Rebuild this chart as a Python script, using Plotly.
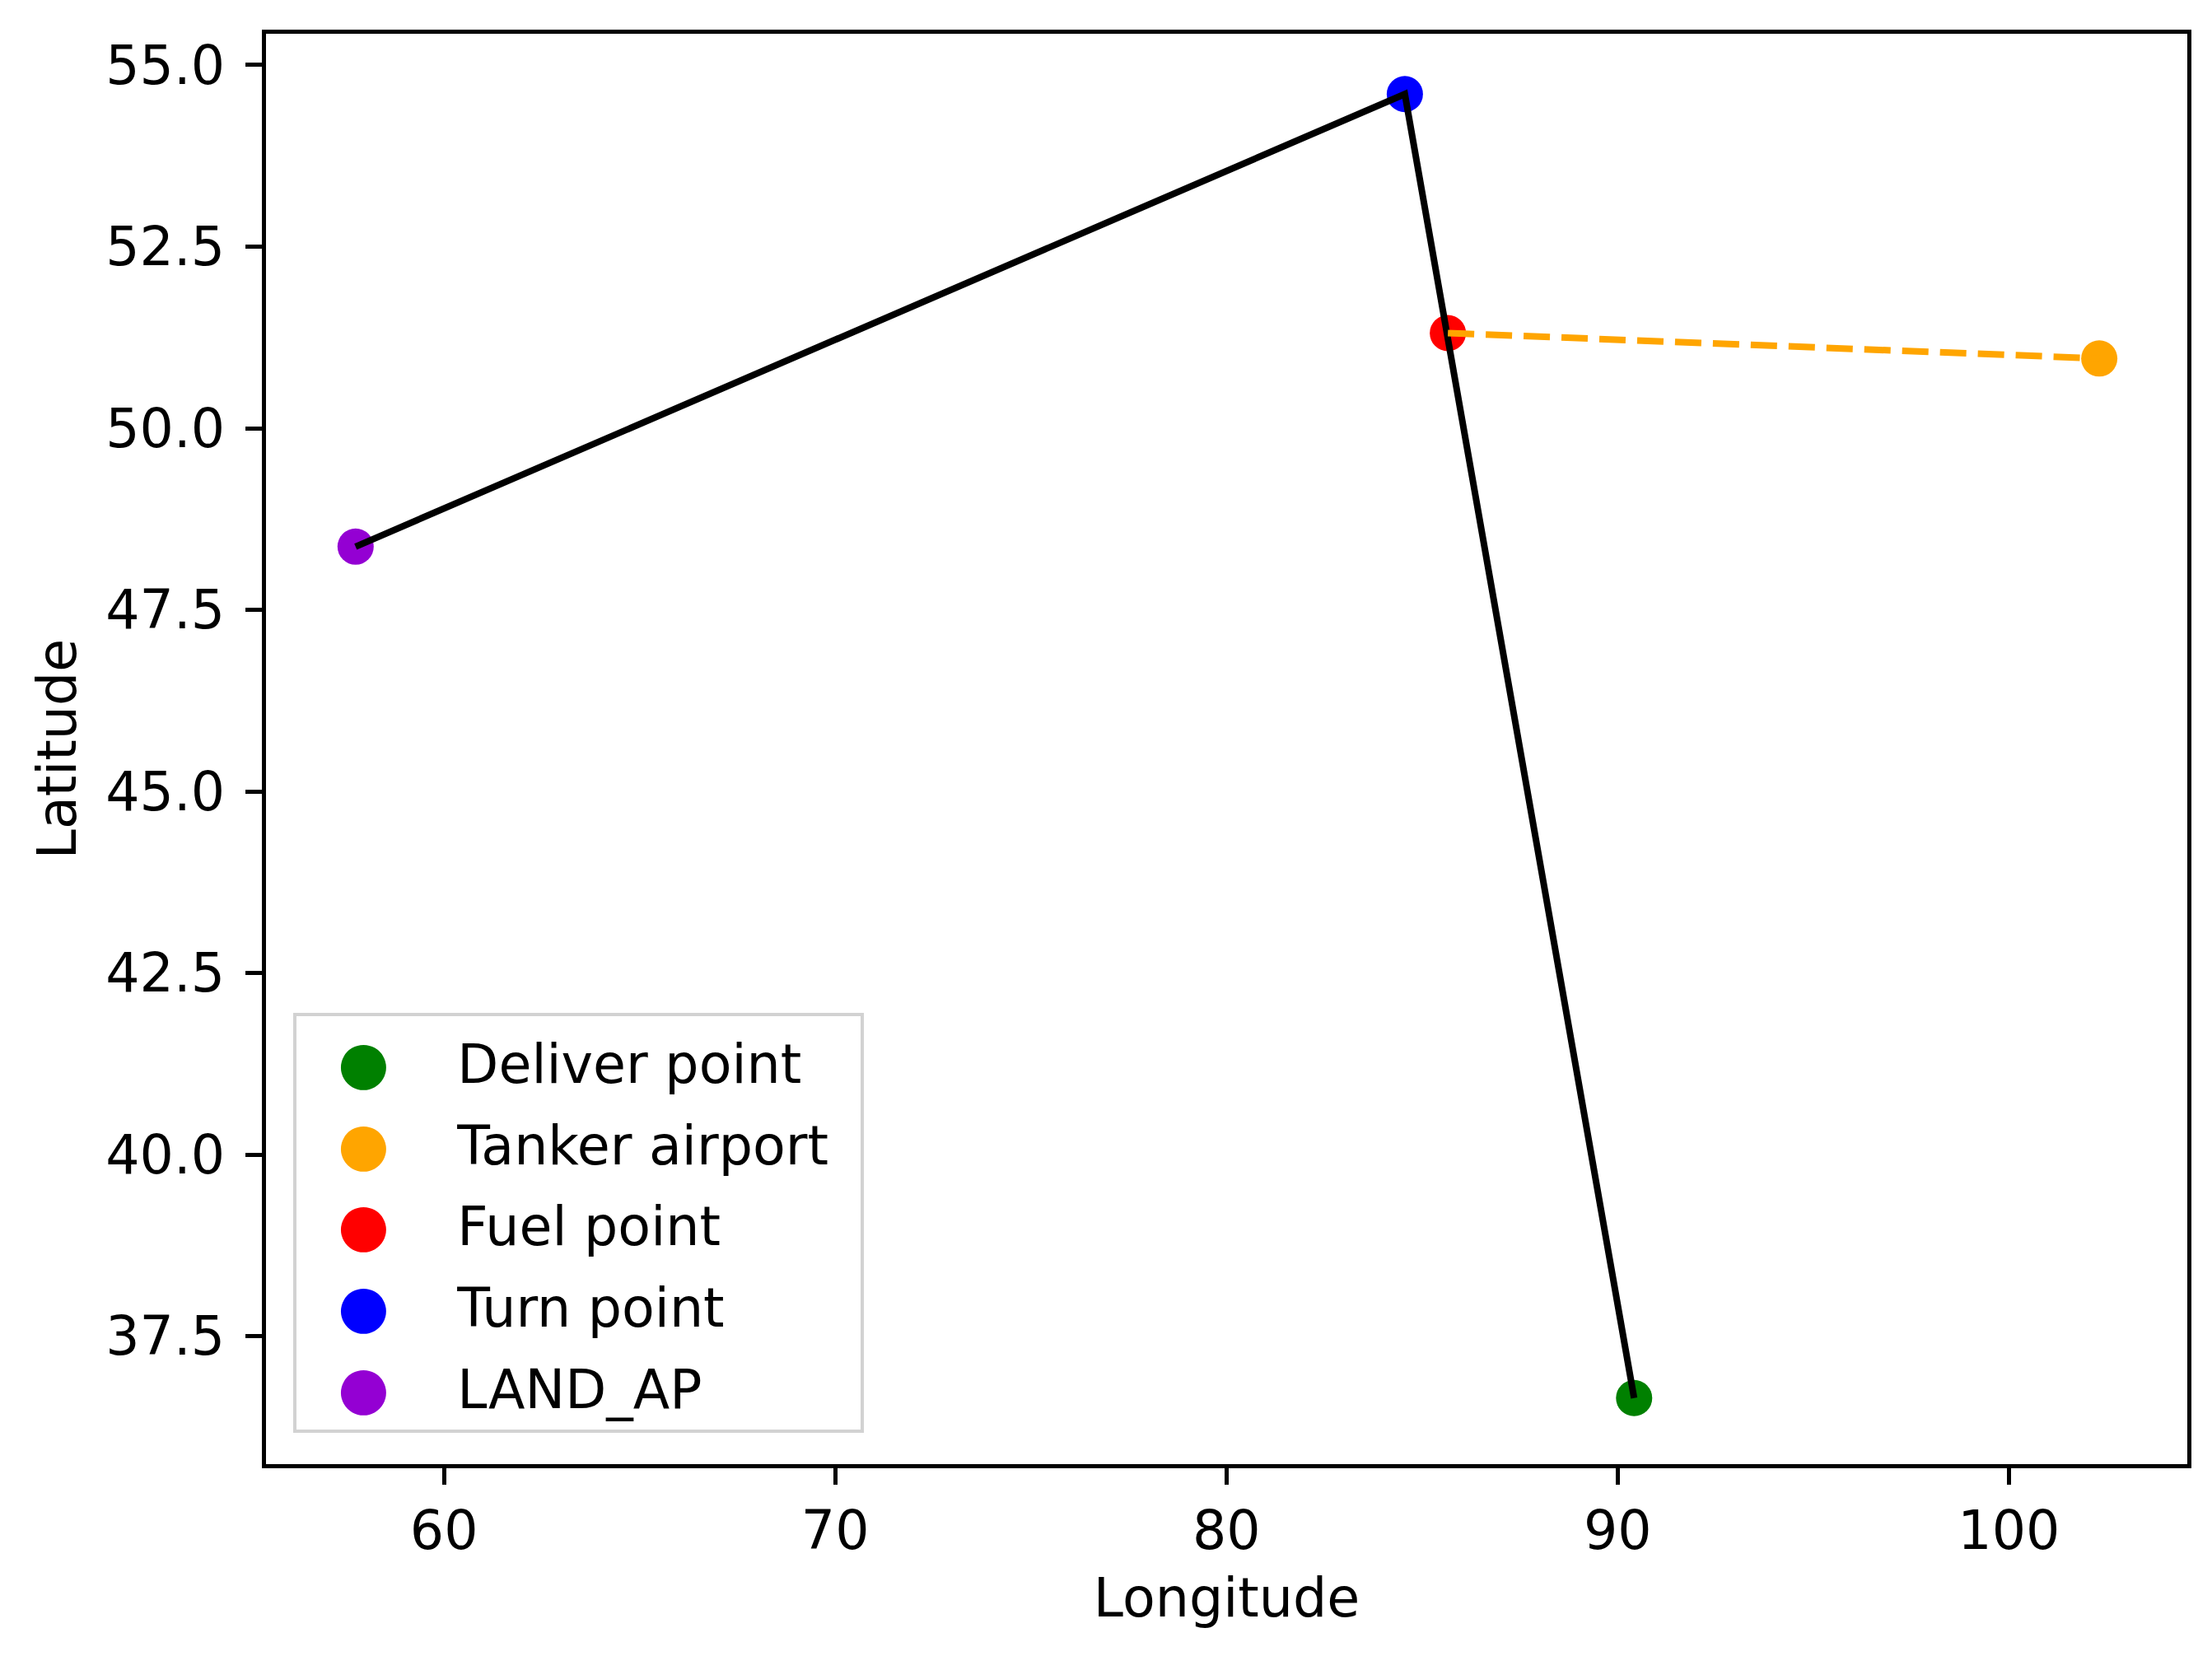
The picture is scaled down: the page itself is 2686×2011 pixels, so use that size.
import plotly.graph_objects as go

# Data
point_names = ["Deliver point", "Tanker airport", "Fuel point", "Turn point", "LAND_AP"]
point_lon = [90.42, 102.31, 85.66, 84.56, 57.74]
point_lat = [36.65, 50.96, 51.31, 54.60, 48.37]
point_colors = ["green", "orange", "red", "blue", "darkviolet"]

# Routes
route_lon = [57.74, 84.56, 90.42]      # LAND_AP -> Turn point -> Deliver point
route_lat = [48.37, 54.60, 36.65]
tanker_lon = [85.66, 102.31]           # Fuel point -> Tanker airport
tanker_lat = [51.31, 50.96]

x_range = [55.45, 104.56]
y_range = [35.74, 55.43]
x_ticks = [60, 70, 80, 90, 100]
y_ticks = [37.5, 40.0, 42.5, 45.0, 47.5, 50.0, 52.5, 55.0]

FONT = "DejaVu Sans"
FS = 65

fig = go.Figure()

# markers (drawn first, lines on top like the reference)
for n, x, y, c in zip(point_names, point_lon, point_lat, point_colors):
    fig.add_trace(go.Scatter(x=[x], y=[y], mode="markers",
                             marker=dict(color=c, size=44, line=dict(width=0)),
                             showlegend=False, hoverinfo="skip"))

fig.add_trace(go.Scatter(x=route_lon, y=route_lat, mode="lines",
                         line=dict(color="black", width=8), showlegend=False))
fig.add_trace(go.Scatter(x=tanker_lon, y=tanker_lat, mode="lines",
                         line=dict(color="orange", width=8, dash="32px,14px"),
                         showlegend=False))

# legend entries (large round glyph as symbol, native symbol hidden)
NB = "\u00a0"
for n, c in zip(point_names, point_colors):
    fig.add_trace(go.Scatter(
        x=[None], y=[None], mode="markers",
        marker=dict(color="rgba(0,0,0,0)", size=2),
        name=(f'<span style="color:{c};font-size:72px">●</span>'
              f'<span style="font-size:{FS}px">{NB*4}{n}{NB}\u2009</span>'),
        legendgroup=n, showlegend=True))

axis_common = dict(
    showline=True, linecolor="black", linewidth=5, mirror=True,
    ticks="outside", ticklen=20, tickwidth=5, tickcolor="black",
    showgrid=False, zeroline=False,
    tickfont=dict(family=FONT, size=FS, color="black"),
)

fig.update_layout(
    width=2686, height=2011,
    margin=dict(l=315, r=38, t=33, b=241, autoexpand=False),
    paper_bgcolor="white", plot_bgcolor="white",
    font=dict(family=FONT, size=FS, color="black"),
    xaxis=dict(range=x_range, tickvals=x_ticks, ticktext=[str(v) for v in x_ticks],
               title=dict(text="Longitude", font=dict(family=FONT, size=FS), standoff=24),
               ticklabelstandoff=0, automargin=False, **axis_common),
    yaxis=dict(range=y_range, tickvals=y_ticks, ticktext=[f"{v:.1f}" for v in y_ticks],
               title=dict(text="Latitude", font=dict(family=FONT, size=FS), standoff=16),
               ticklabelstandoff=12, automargin=False, **axis_common),
    legend=dict(x=0.0141, y=0.022, xanchor="left", yanchor="bottom",
                bgcolor="white", bordercolor="#d2d2d2", borderwidth=4,
                font=dict(family=FONT, size=72, color="black"),
                itemwidth=40, tracegroupgap=2),
    showlegend=True,
)

fig.write_html("out.html")
